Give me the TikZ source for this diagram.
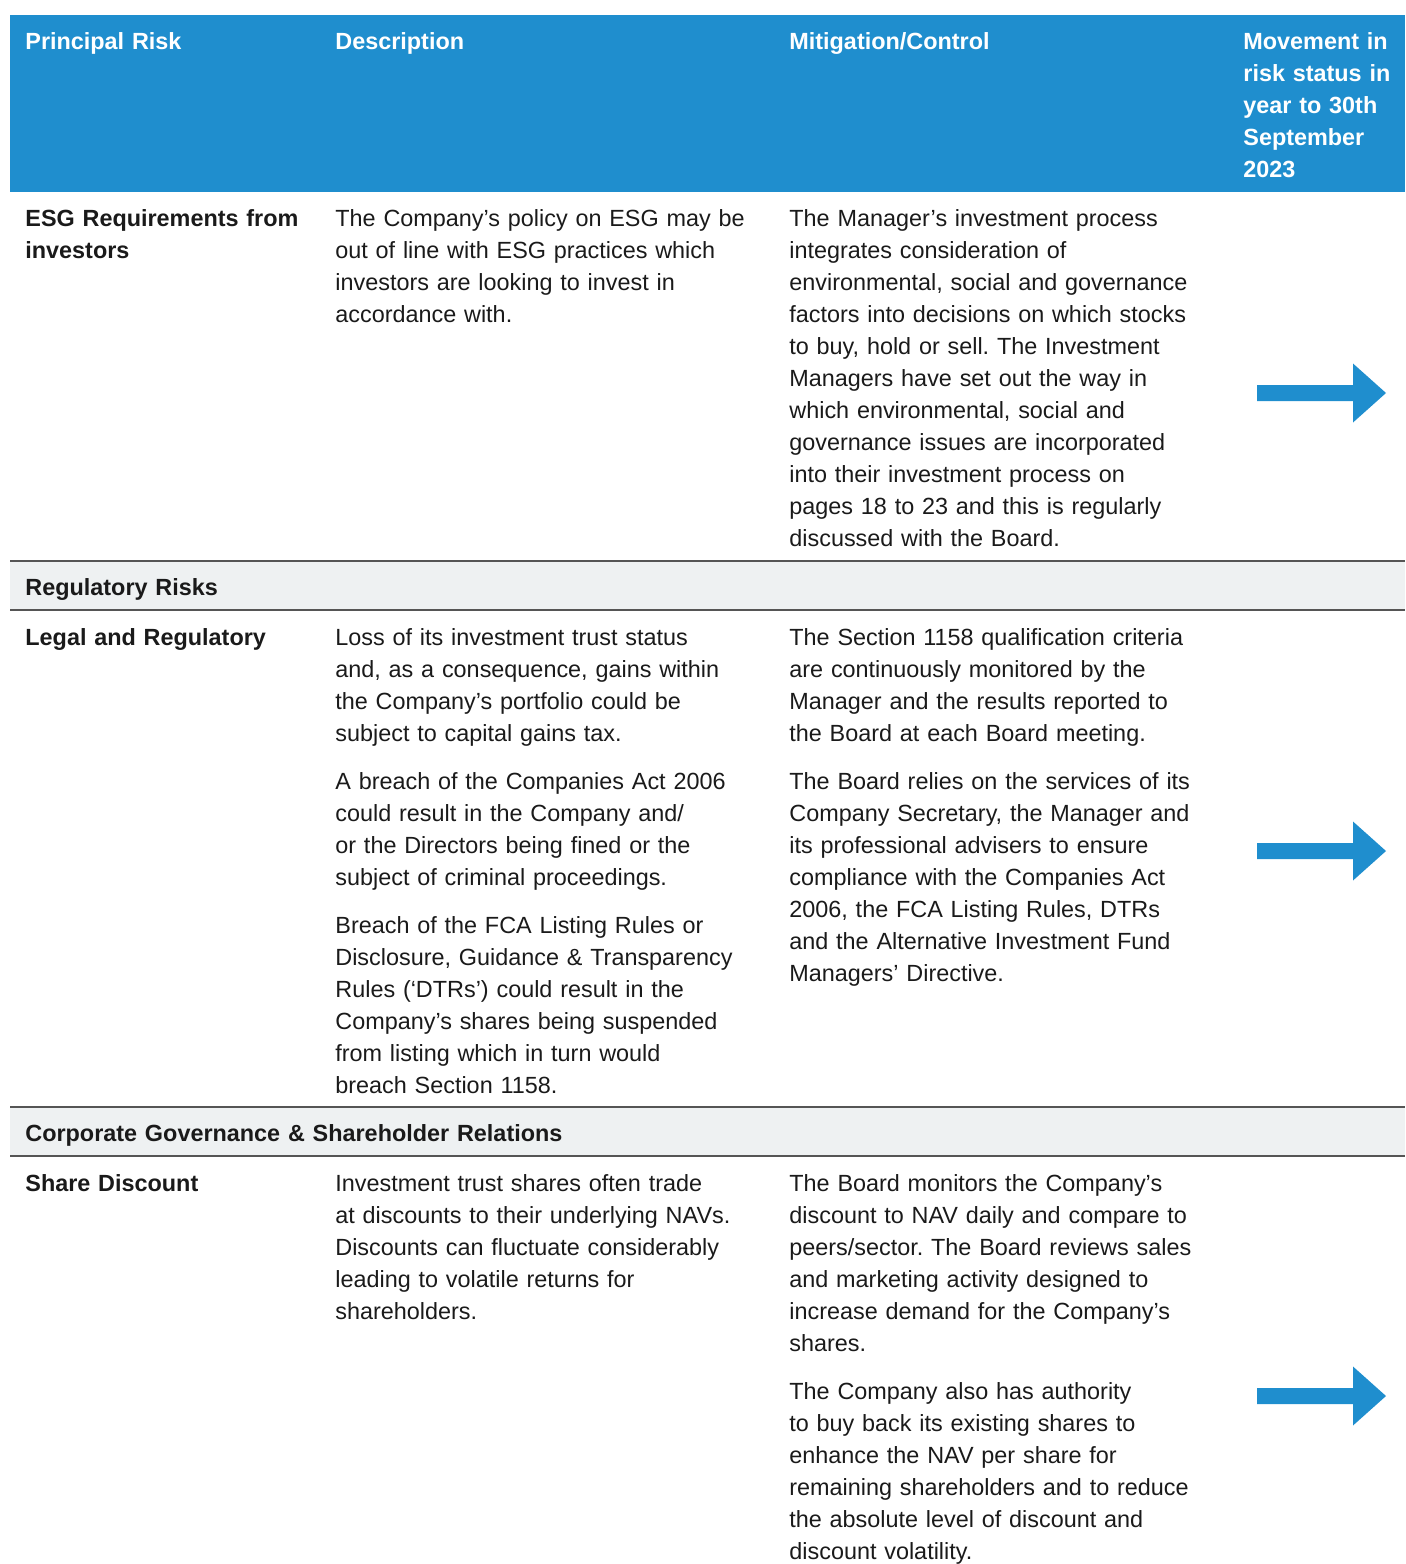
\documentclass[tikz,border=0pt]{standalone}
\usepackage{fontspec}
\setmainfont{Liberation Sans}
\usepackage{xcolor}
\usetikzlibrary{positioning}
\frenchspacing
\definecolor{headblue}{HTML}{1F8ECE}
\definecolor{bandgrey}{HTML}{EEF1F2}
\definecolor{inkgrey}{HTML}{1A1A1A}
\definecolor{linegrey}{HTML}{555555}
\tikzstyle{cell}=[
        anchor=base west,
        inner sep=0pt,
        text width=230pt,
        align=left,
        text=inkgrey,
        font=\fontsize{11.7}{16}\selectfont
]
\tikzstyle{head}=[cell,text=white,font=\fontsize{11.7}{16}\selectfont\bfseries]
\tikzstyle{risk}=[cell,font=\fontsize{11.7}{16}\selectfont\bfseries]
\tikzstyle{bandtitle}=[risk,text width=600pt]
\tikzstyle{band}=[fill=bandgrey]
\tikzstyle{sepline}=[draw=linegrey,line width=0.6pt]
\tikzstyle{status}=[fill=headblue]

\begin{document}
\begin{tikzpicture}[x=0.5pt,y=-0.5pt]
\useasboundingbox (0,0) rectangle (1405,1564);
%Bands
\fill[headblue] (10,15) rectangle (1405,192);
\fill[band] (10,561) rectangle (1405,610);
\fill[band] (10,1107) rectangle (1405,1156);
\draw[sepline] (10,561) -- (1405,561);
\draw[sepline] (10,610) -- (1405,610);
\draw[sepline] (10,1107) -- (1405,1107);
\draw[sepline] (10,1156) -- (1405,1156);
%Header
\node[head] (h1) at (25,49) {Principal Risk};
\node[head] (h2) at (335,49) {Description};
\node[head] (h3) at (789,49) {Mitigation/Control};
\node[head] (h4) at (1243,49) {Movement in\\risk status in\\year to 30th\\September\\2023};
%ESG row
\node[risk] (esg) at (25,226) {ESG Requirements from\\investors};
\node[cell] (esgdesc) at (335,226) {The Company’s policy on ESG may be\\out of line with ESG practices which\\investors are looking to invest in\\accordance with.};
\node[cell] (esgmit) at (789,226) {The Manager’s investment process\\integrates consideration of\\environmental, social and governance\\factors into decisions on which stocks\\to buy, hold or sell. The Investment\\Managers have set out the way in\\which environmental, social and\\governance issues are incorporated\\into their investment process on\\pages 18 to 23 and this is regularly\\discussed with the Board.};
%Regulatory
\node[bandtitle] (reg) at (25,595) {Regulatory Risks};
\node[risk] (legal) at (25,645) {Legal and Regulatory};
\node[cell] (legaldesc) at (335,645) {Loss of its investment trust status\\and, as a consequence, gains within\\the Company’s portfolio could be\\subject to capital gains tax.\\[8pt]A breach of the Companies Act 2006\\could result in the Company and/\\or the Directors being fined or the\\subject of criminal proceedings.\\[8pt]Breach of the FCA Listing Rules or\\Disclosure, Guidance \& Transparency\\Rules (‘DTRs’) could result in the\\Company’s shares being suspended\\from listing which in turn would\\breach Section 1158.};
\node[cell] (legalmit) at (789,645) {The Section 1158 qualification criteria\\are continuously monitored by the\\Manager and the results reported to\\the Board at each Board meeting.\\[8pt]The Board relies on the services of its\\Company Secretary, the Manager and\\its professional advisers to ensure\\compliance with the Companies Act\\2006, the FCA Listing Rules, DTRs\\and the Alternative Investment Fund\\Managers’ Directive.};
%Governance
\node[bandtitle] (gov) at (25,1141) {Corporate Governance \& Shareholder Relations};
\node[risk] (disc) at (25,1191) {Share Discount};
\node[cell] (discdesc) at (335,1191) {Investment trust shares often trade\\at discounts to their underlying NAVs.\\Discounts can fluctuate considerably\\leading to volatile returns for\\shareholders.};
\node[cell] (discmit) at (789,1191) {The Board monitors the Company’s\\discount to NAV daily and compare to\\peers/sector. The Board reviews sales\\and marketing activity designed to\\increase demand for the Company’s\\shares.\\[8pt]The Company also has authority\\to buy back its existing shares to\\enhance the NAV per share for\\remaining shareholders and to reduce\\the absolute level of discount and\\discount volatility.};
%Status arrows
\foreach \y in {393,851,1396}
  \fill[status] (1257,\y-8) -- (1353,\y-8) -- (1353,\y-29.5) -- (1386,\y)
    -- (1353,\y+29.5) -- (1353,\y+8) -- (1257,\y+8) -- cycle;
\end{tikzpicture}
\end{document}
